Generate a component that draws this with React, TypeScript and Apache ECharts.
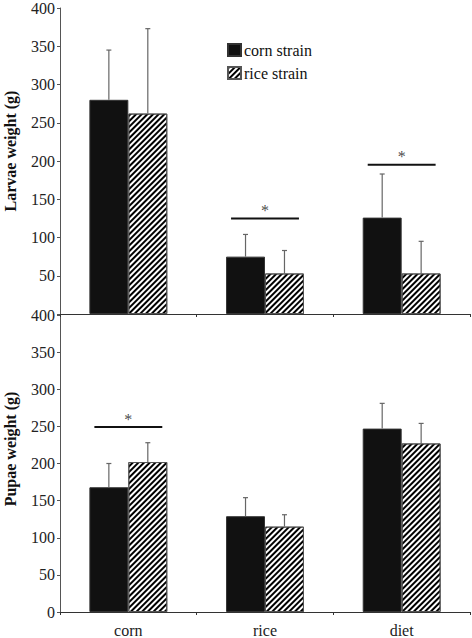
import React, { useEffect, useRef } from "react";
import * as echarts from "echarts";

const categories = ["corn", "rice", "diet"];
const larvaeCorn = [280, 75, 126];
const larvaeCornErr = [65, 29, 57];
const larvaeRice = [262, 53, 53];
const larvaeRiceErr = [111, 30, 42];
const pupaeCorn = [168, 129, 247];
const pupaeCornErr = [32, 25, 34];
const pupaeRice = [202, 115, 227];
const pupaeRiceErr = [26, 16, 27];
const larvaeSig = [[1, 125], [2, 195]];
const pupaeSig = [[0, 249]];
const yTicks = [0, 50, 100, 150, 200, 250, 300, 350, 400];

const FONT = "Liberation Serif";
const GAP = 0.43;

const hatch = {
  symbol: "rect",
  symbolSize: 1,
  dashArrayX: [1, 0],
  dashArrayY: [1.5, 1.5],
  rotation: -Math.PI / 4,
  color: "#000",
};

function errRender(side: number) {
  return (params: any, api: any) => {
    const c = api.value(0);
    const v = api.value(1);
    const e = api.value(2);
    const base = api.coord([c, v]);
    const top = api.coord([c, v + e]);
    const catW = api.size([1, 0])[0];
    const bw = (catW * (1 - GAP)) / 2;
    const xc = base[0] + (side * bw) / 2;
    return {
      type: "group",
      children: [
        { type: "line", shape: { x1: xc, y1: base[1], x2: xc, y2: top[1] }, style: { stroke: "#666", lineWidth: 1.2 } },
        { type: "line", shape: { x1: xc - 2.5, y1: top[1], x2: xc + 2.5, y2: top[1] }, style: { stroke: "#666", lineWidth: 1.2 } },
      ],
    };
  };
}

function sigRender(params: any, api: any) {
  const c = api.value(0);
  const v = api.value(1);
  const p = api.coord([c, v]);
  const catW = api.size([1, 0])[0];
  const bw = (catW * (1 - GAP)) / 2;
  return {
    type: "line",
    shape: { x1: p[0] - bw + 5, y1: p[1], x2: p[0] + bw - 5, y2: p[1] },
    style: { stroke: "#111", lineWidth: 2 },
  };
}

const starSeries = (idx: number, data: number[][]) => ({
  type: "scatter",
  xAxisIndex: idx,
  yAxisIndex: idx,
  data,
  symbol: "circle",
  symbolSize: 0,
  z: 6,
  label: {
    show: true,
    formatter: "*",
    position: "top",
    distance: 0,
    color: "#111",
    fontFamily: FONT,
    fontSize: 16,
  },
});

export default function App() {
  const ref = useRef<HTMLDivElement>(null);
  useEffect(() => {
    const chart = echarts.init(ref.current!, null, { renderer: "svg" });
    const axisLine = { lineStyle: { color: "#333", width: 1 } };
    const yAxisBase = (gridIndex: number, hideZero: boolean) => ({
      type: "value",
      gridIndex,
      min: yTicks[0],
      max: yTicks[yTicks.length - 1],
      interval: 50,
      axisLine: { show: true, lineStyle: { color: "#555", width: 1 } },
      axisTick: { show: true, length: 3, lineStyle: { color: "#555" } },
      splitLine: { show: false },
      axisLabel: {
        fontFamily: FONT,
        fontSize: 16,
        color: "#222",
        margin: 5,
        formatter: (v: number) => (hideZero && v === 0 ? "" : String(v)),
      },
    });
    const xAxisBase = (gridIndex: number, showLabel: boolean) => ({
      type: "category",
      gridIndex,
      data: categories,
      axisLine,
      axisTick: { show: true, length: 3, lineStyle: { color: "#333" } },
      axisLabel: { show: showLabel, fontFamily: FONT, fontSize: 16, color: "#222", margin: 10 },
    });
    const barCorn = { color: "#111", borderColor: "#333", borderWidth: 1 };
    const barRice = { color: "#fff", borderColor: "#555", borderWidth: 1, decal: hatch };
    chart.setOption({
      animation: false,
      backgroundColor: "#fff",
      textStyle: { fontFamily: FONT },
      legend: {
        left: 227,
        top: 42,
        padding: 0,
        orient: "vertical",
        itemWidth: 13,
        itemHeight: 12,
        itemGap: 7,
        icon: "rect",
        textStyle: { fontFamily: FONT, fontSize: 16, color: "#111", padding: [0, 0, 0, -2] },
        data: ["corn strain", "rice strain"],
      },
      grid: [
        { left: 60, top: 6, width: 410, height: 308 },
        { left: 60, top: 315, width: 410, height: 299 },
      ],
      xAxis: [xAxisBase(0, false), xAxisBase(1, true)],
      yAxis: [yAxisBase(0, true), yAxisBase(1, false)],
      graphic: [
        { type: "text", x: 10, y: 151, rotation: Math.PI / 2, style: { text: "Larvae weight (g)", fontFamily: FONT, fontWeight: "bold", fontSize: 16, fill: "#111", align: "center", verticalAlign: "middle" } },
        { type: "text", x: 10, y: 449, rotation: Math.PI / 2, style: { text: "Pupae weight (g)", fontFamily: FONT, fontWeight: "bold", fontSize: 16, fill: "#111", align: "center", verticalAlign: "middle" } },
      ],
      series: [
        { name: "corn strain", type: "bar", xAxisIndex: 0, yAxisIndex: 0, data: larvaeCorn, barGap: "0%", barCategoryGap: "43%", itemStyle: barCorn },
        { name: "rice strain", type: "bar", xAxisIndex: 0, yAxisIndex: 0, data: larvaeRice, barGap: "0%", barCategoryGap: "43%", itemStyle: barRice },
        { name: "corn strain", type: "bar", xAxisIndex: 1, yAxisIndex: 1, data: pupaeCorn, barGap: "0%", barCategoryGap: "43%", itemStyle: barCorn },
        { name: "rice strain", type: "bar", xAxisIndex: 1, yAxisIndex: 1, data: pupaeRice, barGap: "0%", barCategoryGap: "43%", itemStyle: barRice },
        { type: "custom", xAxisIndex: 0, yAxisIndex: 0, renderItem: errRender(-1), data: larvaeCorn.map((v, i) => [i, v, larvaeCornErr[i]]), itemStyle: { color: "#666" }, z: 5 },
        { type: "custom", xAxisIndex: 0, yAxisIndex: 0, renderItem: errRender(1), data: larvaeRice.map((v, i) => [i, v, larvaeRiceErr[i]]), itemStyle: { color: "#666" }, z: 5 },
        { type: "custom", xAxisIndex: 1, yAxisIndex: 1, renderItem: errRender(-1), data: pupaeCorn.map((v, i) => [i, v, pupaeCornErr[i]]), itemStyle: { color: "#666" }, z: 5 },
        { type: "custom", xAxisIndex: 1, yAxisIndex: 1, renderItem: errRender(1), data: pupaeRice.map((v, i) => [i, v, pupaeRiceErr[i]]), itemStyle: { color: "#666" }, z: 5 },
        { type: "custom", xAxisIndex: 0, yAxisIndex: 0, renderItem: sigRender, data: larvaeSig, itemStyle: { color: "#111" }, z: 5 },
        { type: "custom", xAxisIndex: 1, yAxisIndex: 1, renderItem: sigRender, data: pupaeSig, itemStyle: { color: "#111" }, z: 5 },
        starSeries(0, larvaeSig),
        starSeries(1, pupaeSig),
      ],
    });
    return () => chart.dispose();
  }, []);
  return <div ref={ref} style={{ position: "absolute", left: 0, top: 0, width: 472, height: 638, background: "#fff" }} />;
}
